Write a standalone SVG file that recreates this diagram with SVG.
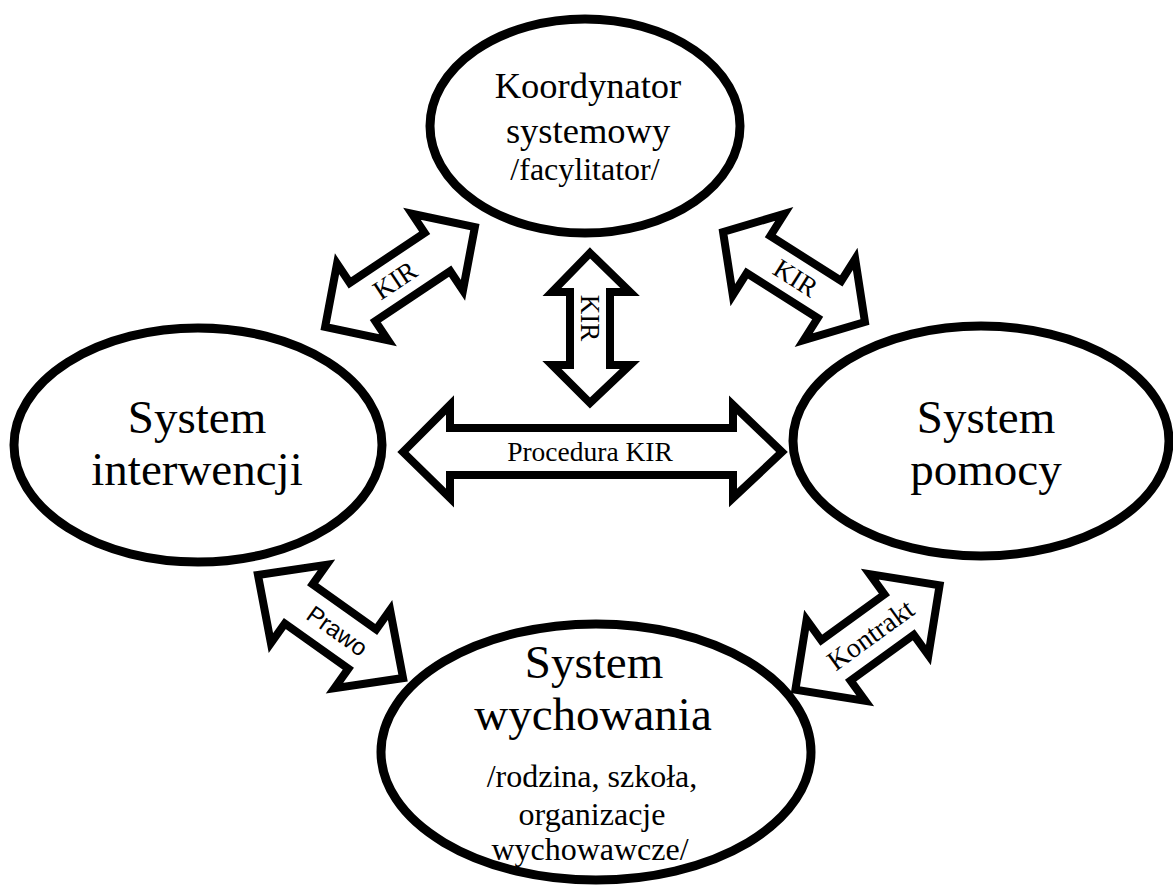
<svg xmlns="http://www.w3.org/2000/svg" width="1173" height="888" viewBox="0 0 1173 888">
<style>
.node{fill:#fff;stroke:#000;stroke-width:9}
.arr{fill:#fff;stroke:#000;stroke-width:8;stroke-linejoin:miter}
text{font-family:"Liberation Serif","Times New Roman",serif;fill:#000;text-anchor:middle}
.big{font-size:47px}
.mid{font-size:36.5px}
.sm{font-size:32px}
.lab{font-size:27px}
</style>
<rect width="1173" height="888" fill="#fff"/>
<g id="connectors">
  <g id="arrow-tl" transform="translate(400,277) rotate(-33.7)">
    <path class="arr" d="M-90,0 L-45,-46 L-45,-23 L45,-23 L45,-46 L90,0 L45,46 L45,23 L-45,23 L-45,46 Z"/>
    <text class="lab" x="-6" y="9">KIR</text>
  </g>
  <g id="arrow-tr" transform="translate(794,277) rotate(32.4)">
    <path class="arr" d="M-84,0 L-42,-48 L-42,-22 L42,-22 L42,-48 L84,0 L42,48 L42,22 L-42,22 L-42,48 Z"/>
    <text class="lab" x="2" y="9">KIR</text>
  </g>
  <g id="arrow-v">
    <path class="arr" d="M590,253 L630,292 L610,292 L610,365 L630,365 L590,403 L552,365 L570,365 L570,292 L552,292 Z"/>
    <text class="lab" transform="translate(590,318) rotate(90)" y="9">KIR</text>
  </g>
  <g id="arrow-h">
    <path class="arr" d="M403,452 L450,405 L450,428 L733,428 L733,405 L782,452 L733,498 L733,475 L450,475 L450,498 Z"/>
    <text x="590" y="461" font-size="27.5">Procedura KIR</text>
  </g>
  <g id="arrow-bl" transform="translate(330.5,626.5) rotate(35.4)">
    <path class="arr" d="M-89,0 L-39,-48 L-39,-24 L39,-24 L39,-48 L89,0 L39,48 L39,24 L-39,24 L-39,48 Z"/>
    <text x="8" y="8" font-size="24" style="font-family:'Liberation Sans',Arial,sans-serif">Prawo</text>
  </g>
  <g id="arrow-br" transform="translate(867.5,637.5) rotate(-35.9)">
    <path class="arr" d="M-89,0 L-39,-50 L-39,-25 L39,-25 L39,-50 L89,0 L39,50 L39,25 L-39,25 L-39,50 Z"/>
    <text x="4" y="9" font-size="28">Kontrakt</text>
  </g>
</g>
<g id="node-koordynator">
  <ellipse class="node" cx="585" cy="126" rx="155" ry="107"/>
  <text class="mid" x="588" y="98">Koordynator</text>
  <text class="mid" x="588" y="143">systemowy</text>
  <text class="sm" x="585" y="180">/facylitator/</text>
</g>
<g id="node-interwencji">
  <ellipse class="node" cx="198" cy="445" rx="184" ry="117"/>
  <text class="big" x="197" y="433">System</text>
  <text class="big" x="197" y="485">interwencji</text>
</g>
<g id="node-pomocy">
  <ellipse class="node" cx="981" cy="441" rx="188" ry="115"/>
  <text class="big" x="986" y="433">System</text>
  <text class="big" x="986" y="485">pomocy</text>
</g>
<g id="node-wychowania">
  <ellipse class="node" cx="596" cy="752" rx="215" ry="128"/>
  <text class="big" x="594" y="678">System</text>
  <text class="big" x="593" y="730">wychowania</text>
  <text class="sm" x="592" y="787">/rodzina, szkoła,</text>
  <text class="sm" x="592" y="825">organizacje</text>
  <text class="sm" x="590" y="860">wychowawcze/</text>
</g>
</svg>
